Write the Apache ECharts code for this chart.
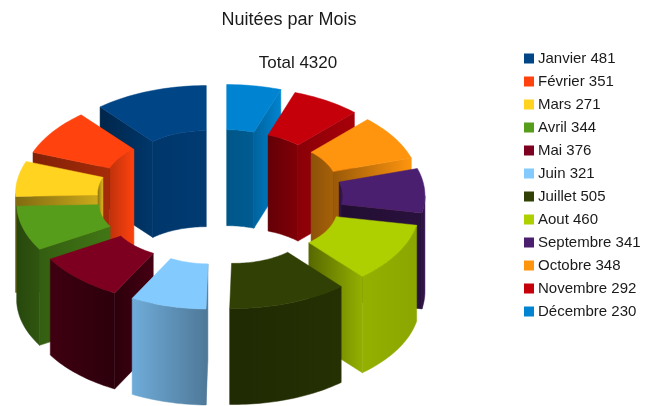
<!DOCTYPE html>
<html>
<head>
<meta charset="utf-8">
<title>Nuitées par Mois</title>
<style>
html, body { margin: 0; padding: 0; background: #fff; }
#main { width: 651px; height: 406px; }
</style>
<script src="https://cdn.jsdelivr.net/npm/echarts@6/dist/echarts.min.js"></script>
</head>
<body>
<div id="main"></div>
<script>
var mois = ['Janvier', 'Février', 'Mars', 'Avril', 'Mai', 'Juin', 'Juillet', 'Aout', 'Septembre', 'Octobre', 'Novembre', 'Décembre'];
var nuitees = [481, 351, 271, 344, 376, 321, 505, 460, 341, 348, 292, 230];
var total = 4320;
var couleurs = ['#004586', '#ff420e', '#ffd320', '#579d1c', '#7e0021', '#83caff', '#314004', '#aecf00', '#4b1f6f', '#ff950e', '#c5000b', '#0084d1'];

// brightness of the walls, [left, right] of each face
var ombreInt = [[.8, .85], [.75, 1], [.5, .9], [.6, .6], [.6, .6], [.6, .6], [.6, .6], [.6, .6], [.6, .7], [.55, .65], [.5, .65], [.65, .7]];
var ombreExt = [[.6, .6], [.6, .6], [.6, .6], [.45, .55], [.5, .35], [.85, .6], [.65, .75], [.85, .8], [.6, .7], [.7, .7], [.7, .7], [.7, .7]];
var ombreCote = [[.55, .8], [.5, .65], [.5, .8], [.6, .75], [.35, .55], [.6, .6], [.6, .6], [.5, .85], [.45, .55], [.6, 1], [.7, .85], [.75, 1]];

// 3D ring
var cx = 220, cy = 197, R = 165, r = 83, k = 0.55, h = 96, eclat = 40;

function teinte(hex, f) {
    var c = echarts.color.parse(hex);
    return 'rgb(' + Math.round(c[0] * f) + ',' + Math.round(c[1] * f) + ',' + Math.round(c[2] * f) + ')';
}

function degrade(hex, o) {
    return new echarts.graphic.LinearGradient(0, 0, 1, 0, [
        {offset: 0, color: teinte(hex, o[0])},
        {offset: 1, color: teinte(hex, o[1])}
    ]);
}

function rad(d) {
    return d * Math.PI / 180;
}

function face(points, fill) {
    return {type: 'polygon', silent: true, shape: {points: points}, style: {fill: fill, stroke: fill, lineWidth: 0.5}};
}

// angles go counter clockwise from the top, in degrees
function dessin(params, api) {
    var i = params.seriesIndex;
    var p = api.value(0) / total * 360;
    var q = (api.value(0) + api.value(1)) / total * 360;
    var mil = rad((p + q) / 2);
    var ox = cx - eclat * Math.sin(mil);
    var oy = cy - eclat * Math.cos(mil) * k;
    var col = couleurs[i];

    function pt(rayon, a, bas) {
        return [ox - rayon * Math.sin(rad(a)), oy - rayon * Math.cos(rad(a)) * k + (bas ? h : 0)];
    }
    function arc(rayon, a, b, bas) {
        var res = [], n = Math.max(1, Math.ceil(Math.abs(b - a) / 1.5));
        for (var j = 0; j <= n; j++) {
            res.push(pt(rayon, a + (b - a) * j / n, bas));
        }
        return res;
    }
    function mur(rayon, a, b) {
        return arc(rayon, a, b, false).concat(arc(rayon, b, a, true));
    }

    var faces = [];
    // inner wall, seen on the far half
    var intA = [[p, Math.min(q, 90)], [Math.max(p, 270), q]];
    intA.forEach(function (s) {
        if (s[1] > s[0]) faces.push(face(mur(r, s[0], s[1]), degrade(col, ombreInt[i])));
    });
    // cut faces
    if (Math.sin(rad(p)) < -0.001) {
        faces.push(face([pt(r, p), pt(R, p), pt(R, p, true), pt(r, p, true)], degrade(col, ombreCote[i])));
    }
    if (Math.sin(rad(q)) > 0.001) {
        faces.push(face([pt(r, q), pt(R, q), pt(R, q, true), pt(r, q, true)], degrade(col, ombreCote[i])));
    }
    // outer wall, seen on the near half
    var a1 = Math.max(p, 90), b1 = Math.min(q, 270);
    if (b1 > a1) {
        faces.push(face(mur(R, a1, b1), degrade(col, ombreExt[i])));
    }
    // top
    faces.push(face(arc(R, p, q).concat(arc(r, q, p)), col));
    return {type: 'group', children: faces};
}

var series = [];
var cumul = 0;
for (var i = 0; i < mois.length; i++) {
    var mid = (cumul + nuitees[i] / 2) / total * 2 * Math.PI;
    series.push({
        type: 'custom',
        name: mois[i] + ' ' + nuitees[i],
        coordinateSystem: 'none',
        // far slices first
        z: 20 - 10 * Math.cos(mid),
        animation: false,
        itemStyle: {color: couleurs[i]},
        renderItem: dessin,
        data: [[cumul, nuitees[i]]]
    });
    cumul += nuitees[i];
}

var chart = echarts.init(document.getElementById('main'));
chart.setOption({
    backgroundColor: '#fff',
    animation: false,
    textStyle: {fontFamily: 'Liberation Sans'},
    title: [
        {text: 'Nuitées par Mois', left: 284, top: 6, textAlign: 'center', textStyle: {fontSize: 18, fontWeight: 'normal', color: '#1a1a1a', fontFamily: 'Liberation Sans'}},
        {text: 'Total 4320', left: 293, top: 50, textAlign: 'center', textStyle: {fontSize: 17, fontWeight: 'normal', color: '#1a1a1a', fontFamily: 'Liberation Sans'}}
    ],
    legend: {
        orient: 'vertical',
        left: 524,
        top: 51,
        padding: 0,
        itemWidth: 10,
        itemHeight: 10,
        itemGap: 8,
        icon: 'rect',
        selectedMode: false,
        textStyle: {fontSize: 15, color: '#1a1a1a', fontFamily: 'Liberation Sans', padding: [0, 0, 0, -1]},
        data: mois.map(function (m, i) { return m + ' ' + nuitees[i]; })
    },
    series: series
});
</script>
</body>
</html>
